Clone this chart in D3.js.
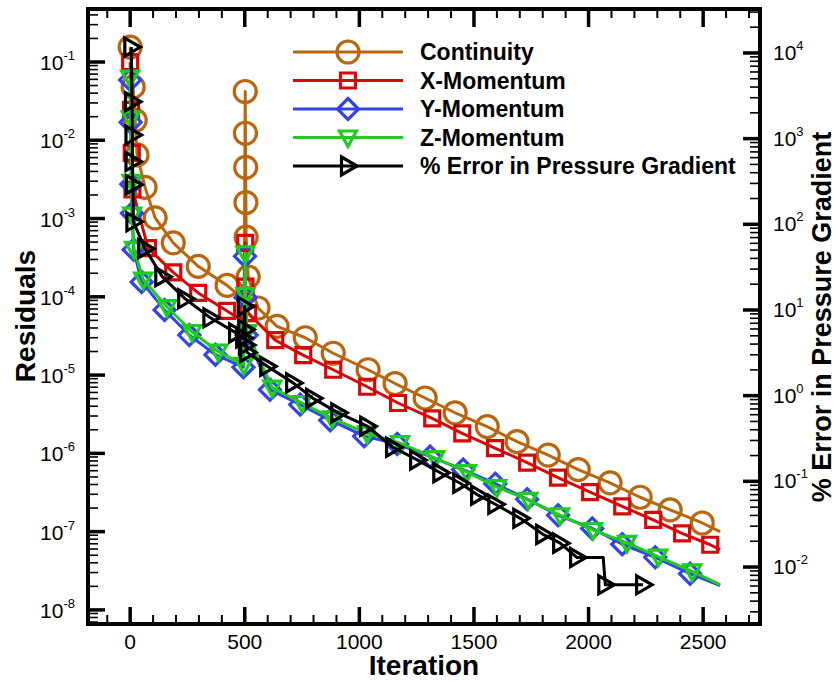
<!DOCTYPE html>
<html>
<head>
<meta charset="utf-8">
<script src="https://cdn.jsdelivr.net/npm/d3@7"></script>
<style>
  body { margin: 0; background: #fff; }
  text { font-family: "Liberation Sans", Arial, sans-serif; fill: #000; }
</style>
</head>
<body>
<svg id="chart" width="838" height="681"></svg>
<script>
// ---- data (iteration, value) ----
const iterTicks = [0, 500, 1000, 1500, 2000, 2500];
const residualExps = [-8, -7, -6, -5, -4, -3, -2, -1];
const errorExps = [-2, -1, 0, 1, 2, 3, 4];

const continuity = [
  [0, 1.55e-1], [13, 4.8e-2], [22, 1.8e-2], [30, 6.5e-3], [65, 2.5e-3], [109, 1.02e-3],
  [188, 4.9e-4], [297, 2.45e-4], [423, 1.4e-4], [497, 9.1e-5],
  [502, 4.2e-2], [503, 1.23e-2], [504, 4.5e-3], [505, 1.6e-3], [506, 5.8e-4], [515, 1.8e-4],
  [558, 7.2e-5], [641, 4.2e-5], [764, 3.0e-5], [886, 1.9e-5], [1038, 1.17e-5], [1156, 7.8e-6],
  [1287, 5.1e-6], [1418, 3.3e-6], [1558, 2.2e-6], [1688, 1.41e-6], [1824, 9.5e-7], [1955, 6.2e-7],
  [2094, 4.2e-7], [2225, 2.75e-7], [2356, 1.9e-7], [2496, 1.29e-7], [2574, 1.0e-7]
];
const xMomentum = [
  [0, 1.0e-1], [4, 2.45e-2], [7, 6.9e-3], [10, 2.35e-3], [78, 4.2e-4], [188, 2.05e-4],
  [297, 1.12e-4], [423, 6.6e-5], [497, 4.8e-5],
  [502, 4.9e-4], [503, 1.35e-4], [515, 6.2e-5],
  [633, 2.8e-5], [755, 1.8e-5], [886, 1.17e-5], [1034, 7.1e-6], [1169, 4.4e-6], [1318, 2.8e-6],
  [1449, 1.8e-6], [1592, 1.17e-6], [1732, 7.6e-7], [1867, 4.9e-7], [2007, 3.2e-7], [2147, 2.1e-7],
  [2282, 1.41e-7], [2408, 9.5e-8], [2531, 6.8e-8], [2574, 5.9e-8]
];
const yMomentum = [
  [0, 5.9e-2], [2, 1.7e-2], [5, 2.75e-3], [8, 1.17e-3], [15, 4.0e-4], [50, 1.55e-4],
  [150, 6.8e-5], [258, 3.25e-5], [372, 1.82e-5], [494, 1.26e-5],
  [501, 3.3e-4], [503, 9.8e-5], [508, 3.25e-5],
  [610, 6.5e-6], [742, 4.2e-6], [873, 2.65e-6], [1021, 1.66e-6], [1165, 1.32e-6], [1309, 9.1e-7],
  [1453, 6.2e-7], [1593, 4.1e-7], [1732, 2.6e-7], [1867, 1.62e-7], [2016, 1.1e-7], [2147, 6.9e-8],
  [2291, 4.7e-8], [2443, 2.9e-8], [2574, 2.05e-8]
];
const zMomentum = [
  [0, 6.3e-2], [3, 1.9e-2], [6, 2.95e-3], [9, 1.12e-3], [17, 4.1e-4], [57, 1.66e-4],
  [161, 7.4e-5], [271, 3.55e-5], [384, 2.0e-5], [496, 1.35e-5],
  [502, 3.6e-4], [503, 1.05e-4], [510, 3.55e-5],
  [620, 6.9e-6], [750, 4.4e-6], [881, 2.8e-6], [1034, 1.8e-6], [1178, 1.35e-6], [1331, 8.7e-7],
  [1470, 5.75e-7], [1601, 3.7e-7], [1737, 2.55e-7], [1876, 1.62e-7], [2020, 1.05e-7], [2168, 7.2e-8],
  [2304, 4.8e-8], [2452, 3.1e-8], [2574, 2.1e-8]
];
const pressureError = [
  [5, 1.17e4], [8, 2.7e3], [10, 1.1e3], [10, 5.4e2], [12, 2.9e2], [14, 1.07e2], [65, 52],
  [140, 24.5], [240, 13.5], [350, 8.1], [462, 5.4], [493, 4.7],
  [500, 11], [502, 5.9], [505, 3.9], [510, 3.2],
  [598, 2.2], [711, 1.41], [798, 0.93], [908, 0.63], [1034, 0.44], [1147, 0.25], [1252, 0.178],
  [1353, 0.126], [1440, 0.095], [1518, 0.069], [1593, 0.054], [1702, 0.037], [1802, 0.024],
  [1876, 0.019], [1950, 0.0129], [2064, 0.0129], [2073, 0.0062], [2238, 0.0062]
];

// iterations that are only line vertices (no symbol drawn there)
const continuityBare = [497, 2574];
const xMomentumBare = [497, 2574];
const yMomentumBare = [2574];
const zMomentumBare = [2574];
const pressureErrorBare = [2064];

const seriesNames = ["Continuity", "X-Momentum", "Y-Momentum", "Z-Momentum", "% Error in Pressure Gradient"];

// ---- layout ----
const svg = d3.select("#chart");
const plotLeft = 88, plotRight = 760, plotTop = 9, plotBottom = 624;

const x = d3.scaleLinear().domain([-184, 2748]).range([plotLeft, plotRight]);
const yRes = d3.scaleLog().domain([Math.pow(10, -8.18), Math.pow(10, -0.323)]).range([plotBottom, plotTop]);
const yErr = d3.scaleLog().domain([Math.pow(10, -2.665), Math.pow(10, 4.513)]).range([plotBottom, plotTop]);

const series = [
  { name: seriesNames[0], data: continuity, bare: continuityBare, color: "#b8660f", shape: "circle", y: yRes },
  { name: seriesNames[1], data: xMomentum, bare: xMomentumBare, color: "#d40a0a", shape: "square", y: yRes },
  { name: seriesNames[2], data: yMomentum, bare: yMomentumBare, color: "#3344e6", shape: "diamond", y: yRes },
  { name: seriesNames[3], data: zMomentum, bare: zMomentumBare, color: "#1fcc1f", shape: "triDown", y: yRes },
  { name: seriesNames[4], data: pressureError, bare: pressureErrorBare, color: "#000000", shape: "triRight", y: yErr }
];

function shapePath(shape) {
  switch (shape) {
    case "circle": return "M-11,0A11,11 0 1,0 11,0A11,11 0 1,0 -11,0Z";
    case "square": return "M-7.5,-7.5H7.5V7.5H-7.5Z";
    case "diamond": return "M0,-10.5L10.5,0L0,10.5L-10.5,0Z";
    case "triDown": return "M-8.5,-6.5H8.5L0,9Z";
    case "triRight": return "M-6.5,-9L9,0L-6.5,9Z";
  }
}

// ---- series ----
const plot = svg.append("g").attr("id", "plot");
series.forEach(s => {
  const g = plot.append("g").attr("class", "series");
  const line = d3.line().x(d => x(d[0])).y(d => s.y(d[1]));
  g.append("path")
    .attr("d", line(s.data))
    .attr("fill", "none")
    .attr("stroke", s.color)
    .attr("stroke-width", 3)
    .attr("stroke-linejoin", "round");
  g.selectAll("path.sym")
    .data(s.data.filter(d => !s.bare.includes(d[0])))
    .join("path")
    .attr("class", "sym")
    .attr("transform", d => `translate(${x(d[0])},${s.y(d[1])})`)
    .attr("d", shapePath(s.shape))
    .attr("fill", "none")
    .attr("stroke", s.color)
    .attr("stroke-width", 3.2);
});

// ---- frame & ticks ----
const axes = svg.append("g").attr("id", "axes");

// x ticks (bottom + top, pointing inward)
const xMinor = d3.range(-100, 2701, 100).filter(v => v % 500 !== 0);
xMinor.forEach(v => {
  axes.append("line").attr("x1", x(v)).attr("x2", x(v)).attr("y1", plotBottom).attr("y2", plotBottom - 9)
    .attr("stroke", "#000").attr("stroke-width", 2);
  axes.append("line").attr("x1", x(v)).attr("x2", x(v)).attr("y1", plotTop).attr("y2", plotTop + 9)
    .attr("stroke", "#000").attr("stroke-width", 2);
});
iterTicks.forEach(v => {
  axes.append("line").attr("x1", x(v)).attr("x2", x(v)).attr("y1", plotBottom).attr("y2", plotBottom - 17)
    .attr("stroke", "#000").attr("stroke-width", 3.5);
  axes.append("line").attr("x1", x(v)).attr("x2", x(v)).attr("y1", plotTop).attr("y2", plotTop + 18)
    .attr("stroke", "#000").attr("stroke-width", 3.5);
  axes.append("text").attr("x", x(v)).attr("y", 649)
    .attr("text-anchor", "middle").attr("font-size", 21).text(v);
});

// log axis helper
function logAxis(scale, exps, x0, dir, labelX, anchor, dyLabel) {
  const [lo, hi] = scale.domain();
  const e0 = Math.floor(Math.log10(lo)), e1 = Math.ceil(Math.log10(hi));
  for (let e = e0; e <= e1; e++) {
    for (let m = 2; m <= 9; m++) {
      const v = m * Math.pow(10, e);
      if (v < lo || v > hi) continue;
      axes.append("line").attr("x1", x0).attr("x2", x0 + dir * 10)
        .attr("y1", scale(v)).attr("y2", scale(v))
        .attr("stroke", "#000").attr("stroke-width", 1.6);
    }
  }
  exps.forEach(e => {
    const yy = scale(Math.pow(10, e));
    axes.append("line").attr("x1", x0).attr("x2", x0 + dir * 17)
      .attr("y1", yy).attr("y2", yy)
      .attr("stroke", "#000").attr("stroke-width", 3.5);
    const t = axes.append("text").attr("x", labelX).attr("y", yy + dyLabel)
      .attr("text-anchor", anchor).attr("font-size", 21);
    t.append("tspan").text("10");
    t.append("tspan").attr("dy", -10).attr("font-size", 13).text(e);
  });
}
logAxis(yRes, residualExps, plotLeft, 1, 75, "end", 8);
logAxis(yErr, errorExps, plotRight, -1, 773, "start", 7);

axes.append("rect")
  .attr("x", plotLeft).attr("y", plotTop)
  .attr("width", plotRight - plotLeft).attr("height", plotBottom - plotTop)
  .attr("fill", "none").attr("stroke", "#000").attr("stroke-width", 4);

// ---- titles ----
svg.append("text")
  .attr("transform", "translate(35,316) rotate(-90)")
  .attr("text-anchor", "middle").attr("font-size", 28).attr("font-weight", "bold")
  .text("Residuals");
svg.append("text")
  .attr("transform", "translate(831,317) rotate(-90)")
  .attr("text-anchor", "middle").attr("font-size", 27).attr("font-weight", "bold")
  .text("% Error in Pressure Gradient");
svg.append("text")
  .attr("x", 424).attr("y", 675)
  .attr("text-anchor", "middle").attr("font-size", 28).attr("font-weight", "bold")
  .text("Iteration");

// ---- legend ----
const legend = svg.append("g").attr("id", "legend");
series.forEach((s, i) => {
  const ly = 52 + i * 28.5;
  legend.append("line").attr("x1", 293).attr("x2", 403).attr("y1", ly).attr("y2", ly)
    .attr("stroke", s.color).attr("stroke-width", 3);
  legend.append("path").attr("transform", `translate(348,${ly})`)
    .attr("d", shapePath(s.shape))
    .attr("fill", "none").attr("stroke", s.color).attr("stroke-width", 3.2);
  legend.append("text").attr("x", 420).attr("y", ly + 8)
    .attr("font-size", 23).attr("font-weight", "bold")
    .text(s.name);
});
</script>
</body>
</html>
